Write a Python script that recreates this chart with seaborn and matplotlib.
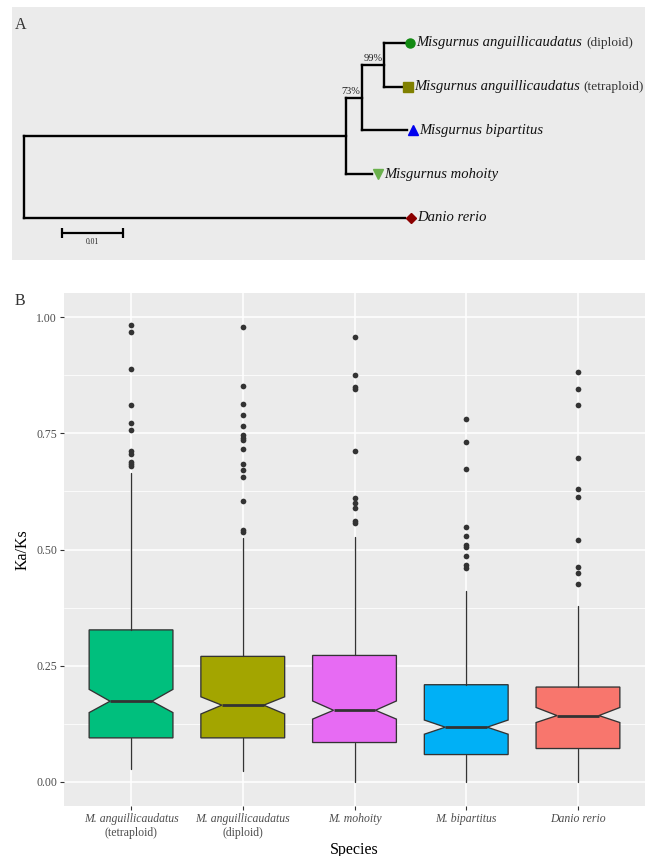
import matplotlib
matplotlib.use("Agg")
import matplotlib.pyplot as plt
from matplotlib.ticker import FixedLocator
import numpy as np
import pandas as pd
import seaborn as sns

# ---------------- Panel A: phylogenetic tree ----------------
tree_nodes = ["root", "clade", "n73", "n99", "diploid", "tetraploid", "bipartitus", "mohoity", "danio"]
tree_parents = [None, "root", "clade", "n73", "n99", "n99", "n73", "clade", "root"]
branch_lengths = [0.0, 0.0528, 0.0026, 0.0036, 0.0034, 0.0030, 0.0074, 0.0043, 0.0625]
node_support = {"n73": "73%", "n99": "99%"}
tip_order = ["diploid", "tetraploid", "bipartitus", "mohoity", "danio"]
tip_names = ["Misgurnus anguillicaudatus", "Misgurnus anguillicaudatus",
             "Misgurnus bipartitus", "Misgurnus mohoity", "Danio rerio"]
tip_notes = ["(diploid)", "(tetraploid)", "", "", ""]
tip_markers = ["o", "s", "^", "v", "D"]
tip_colors = ["#128A12", "#808000", "#0000EE", "#6AB04C", "#8B0000"]
scale_bar_length = 0.01

# ---------------- Panel B: Ka/Ks box plots ----------------
species_keys = ["M. anguillicaudatus (tetraploid)", "M. anguillicaudatus (diploid)",
                "M. mohoity", "M. bipartitus", "Danio rerio"]
tick_names = ["M. anguillicaudatus", "M. anguillicaudatus", "M. mohoity", "M. bipartitus", "Danio rerio"]
tick_notes = ["(tetraploid)", "(diploid)", "", "", ""]
box_colors = ["#00BF7D", "#A3A500", "#E76BF3", "#00B0F6", "#F8766D"]

q1 = [0.0946, 0.0946, 0.0846, 0.0587, 0.0717]
medians = [0.1735, 0.165, 0.154, 0.1176, 0.1426]
q3 = [0.327, 0.270, 0.272, 0.209, 0.204]
whisker_low = [0.0286, 0.024, 0.0, 0.0, 0.0]
whisker_high = [0.665, 0.525, 0.527, 0.411, 0.379]
notch_low = [0.149, 0.146, 0.135, 0.1025, 0.1276]
notch_high = [0.199, 0.183, 0.174, 0.133, 0.160]

outliers_tetraploid = [0.983, 0.967, 0.889, 0.810, 0.773, 0.757, 0.712, 0.705, 0.688, 0.683, 0.679]
outliers_diploid = [0.978, 0.851, 0.814, 0.789, 0.765, 0.746, 0.740, 0.735, 0.716,
                    0.685, 0.671, 0.657, 0.604, 0.542, 0.538]
outliers_mohoity = [0.958, 0.875, 0.850, 0.846, 0.712, 0.610, 0.601, 0.589, 0.562, 0.558]
outliers_bipartitus = [0.780, 0.732, 0.673, 0.548, 0.530, 0.509, 0.505, 0.486, 0.466, 0.460]
outliers_danio = [0.883, 0.846, 0.811, 0.696, 0.630, 0.613, 0.520, 0.463, 0.449, 0.426]

y_ticks = [0.0, 0.25, 0.50, 0.75, 1.00]
y_minor = [0.125, 0.375, 0.625, 0.875]

# ---------------- style ----------------
sns.set_theme(style="darkgrid", rc={"axes.facecolor": "#EBEBEB", "grid.color": "white"})
plt.rcParams["font.family"] = ["Liberation Serif", "DejaVu Serif"]

fig = plt.figure(figsize=(6.45, 8.56), dpi=100)
W, H = 645.0, 856.0
ax_a = fig.add_axes([12 / W, 1 - 260 / H, 633 / W, 253 / H])
ax_b = fig.add_axes([64 / W, 1 - 806 / H, 581 / W, 513 / H])

# ---- tree layout ----
parent = dict(zip(tree_nodes, tree_parents))
blen = dict(zip(tree_nodes, branch_lengths))
children = {n: [c for c in tree_nodes if parent[c] == n] for n in tree_nodes}


def depth(n):
    return 0.0 if parent[n] is None else depth(parent[n]) + blen[n]


xpos = {n: depth(n) for n in tree_nodes}
ypos = {t: float(i) for i, t in enumerate(tip_order)}


def place(n):
    if n in ypos:
        return ypos[n]
    ys = [place(c) for c in children[n]]
    ypos[n] = (min(ys) + max(ys)) / 2
    return ypos[n]


place("root")

lw_tree = 1.7
for n in tree_nodes:
    if parent[n] is not None:
        ax_a.plot([xpos[parent[n]], xpos[n]], [ypos[n], ypos[n]], color="black",
                  lw=lw_tree, solid_capstyle="projecting")
    if children[n]:
        ys = [ypos[c] for c in children[n]]
        ax_a.plot([xpos[n], xpos[n]], [min(ys), max(ys)], color="black",
                  lw=lw_tree, solid_capstyle="projecting")

for n, lab in node_support.items():
    ax_a.text(xpos[n] - 0.0002, ypos[n] - 0.03, lab, ha="right", va="bottom",
              fontsize=7.5, color="#222222")

tip_font = 10.5
note_font = 9.6
for t, name, note, mk, col in zip(tip_order, tip_names, tip_notes, tip_markers, tip_colors):
    ms = {"o": 6.5, "s": 6.5, "^": 7.5, "v": 7.5, "D": 5.5}[mk]
    ax_a.plot(xpos[t] + 0.0009, ypos[t], marker=mk, color=col, ms=ms, mec=col, ls="none")
    name_txt = ax_a.text(xpos[t] + 0.0019, ypos[t], name, ha="left", va="center",
                         fontsize=tip_font, fontstyle="italic", color="#111111")
    if note:
        ax_a.annotate(note, xy=(1, 0.5), xycoords=name_txt, xytext=(3, 0),
                      textcoords="offset points", ha="left", va="center",
                      fontsize=note_font, color="#333333")

# scale bar
sb_x0, sb_y = 0.00623, 4.34
ax_a.plot([sb_x0, sb_x0 + scale_bar_length], [sb_y, sb_y], color="black", lw=1.6)
ax_a.plot([sb_x0, sb_x0 + scale_bar_length], [sb_y, sb_y], color="black", ls="none",
          marker="|", ms=7, mew=1.6)
ax_a.text(sb_x0 + scale_bar_length / 2, sb_y + 0.12, f"{scale_bar_length:g}", ha="center",
          va="top", fontsize=5.5, color="#222222")

ax_a.set_xlim(-0.00197, 0.1018)
ax_a.set_ylim(4.96, -0.82)
ax_a.set_facecolor("#EBEBEB")
ax_a.grid(False)
ax_a.set_xticks([])
ax_a.set_yticks([])
for s in ax_a.spines.values():
    s.set_visible(False)
ax_a.text(0.004, 0.96, "A", transform=ax_a.transAxes, ha="left", va="top", fontsize=11.5,
          color="#333333")

# ---- box plots ----
stats = []
for i in range(len(species_keys)):
    stats.append(dict(med=medians[i], q1=q1[i], q3=q3[i], whislo=whisker_low[i],
                      whishi=whisker_high[i], cilo=notch_low[i], cihi=notch_high[i], fliers=[]))
ax_b.set_axisbelow(True)
bp = ax_b.bxp(stats, positions=list(range(len(stats))), widths=0.75, shownotches=True,
              showcaps=False, showfliers=False, patch_artist=True,
              boxprops=dict(edgecolor="#333333", linewidth=0.95),
              whiskerprops=dict(color="#333333", linewidth=0.95),
              medianprops=dict(color="#333333", linewidth=2.0))
for patch, c in zip(bp["boxes"], box_colors):
    patch.set_facecolor(c)

outlier_lists = [outliers_tetraploid, outliers_diploid, outliers_mohoity,
                 outliers_bipartitus, outliers_danio]
outlier_df = pd.DataFrame({
    "Species": np.repeat(species_keys, [len(o) for o in outlier_lists]),
    "Ka/Ks": np.concatenate(outlier_lists),
})
sns.stripplot(data=outlier_df, x="Species", y="Ka/Ks", order=species_keys, jitter=False,
              color="#333333", size=4.1, linewidth=0, ax=ax_b, zorder=4)

ax_b.set_xlim(-0.6, 4.6)
ax_b.set_ylim(-0.052, 1.052)
ax_b.set_xticks(range(len(species_keys)))
ax_b.set_xticklabels(tick_names, fontstyle="italic")
for i, note in enumerate(tick_notes):
    if note:
        ax_b.annotate(note, xy=(i, 0), xycoords=("data", "axes fraction"), xytext=(0, -19.5),
                      textcoords="offset points", ha="center", va="center",
                      fontsize=8.5, color="#4D4D4D")
ax_b.set_yticks(y_ticks)
ax_b.set_yticklabels([f"{v:.2f}" for v in y_ticks])
ax_b.yaxis.set_minor_locator(FixedLocator(y_minor))
ax_b.grid(True, which="major", axis="both", color="white", linewidth=1.1)
ax_b.grid(True, which="minor", axis="y", color="white", linewidth=0.55)
ax_b.tick_params(axis="both", which="major", length=3, width=0.8, color="#333333",
                 labelcolor="#4D4D4D", labelsize=8.5, pad=2, bottom=True, left=True)
ax_b.tick_params(axis="both", which="minor", length=0)
for s in ax_b.spines.values():
    s.set_visible(False)
ax_b.set_xlabel("Species", fontsize=11.5, color="black", labelpad=12)
ax_b.set_ylabel("Ka/Ks", fontsize=11.5, color="black", labelpad=4)
fig.text(15 / W, 1 - 293 / H, "B", ha="left", va="top", fontsize=11.5, color="#333333")

fig.savefig("out.png", dpi=100)
